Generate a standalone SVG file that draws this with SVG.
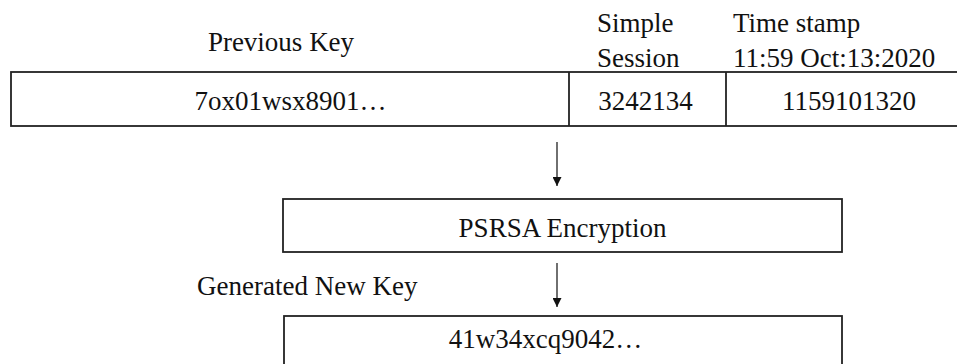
<svg xmlns="http://www.w3.org/2000/svg" width="957" height="364" viewBox="0 0 957 364">
<style>
text{font-family:"Liberation Serif","Times New Roman",serif;font-size:27px;fill:#111}
.box{fill:#fff;stroke:#222;stroke-width:1.8}
.ln{stroke:#222;stroke-width:1.3;fill:none}
</style>
<defs>
<marker id="ah" viewBox="0 0 10 10" refX="10" refY="5" markerWidth="9" markerHeight="9" markerUnits="userSpaceOnUse" orient="auto">
<path d="M0,0 L10,5 L0,10 z" fill="#111"/>
</marker>
</defs>
<g id="labels">
<text x="281" y="51" text-anchor="middle">Previous Key</text>
<text x="597" y="32">Simple</text>
<text x="597" y="67">Session</text>
<text x="733" y="32">Time stamp</text>
<text x="733" y="67">11:59 Oct:13:2020</text>
<text x="197" y="295">Generated New Key</text>
</g>
<g id="input-row">
<rect class="box" x="11" y="72" width="962" height="54"/>
<line class="ln" x1="569" y1="72" x2="569" y2="126" style="stroke-width:1.8"/>
<line class="ln" x1="726" y1="72" x2="726" y2="126" style="stroke-width:1.8"/>
<text x="290.5" y="110" text-anchor="middle">7ox01wsx8901…</text>
<text x="645.5" y="110" text-anchor="middle">3242134</text>
<text x="849" y="110" text-anchor="middle">1159101320</text>
</g>
<g id="encryption">
<rect class="box" x="283" y="199" width="559" height="53"/>
<text x="562.5" y="237" text-anchor="middle">PSRSA Encryption</text>
</g>
<g id="new-key">
<rect class="box" x="284" y="316" width="558" height="60"/>
<text x="545.5" y="348" text-anchor="middle">41w34xcq9042…</text>
</g>
<g id="connectors">
<line class="ln" x1="557" y1="142" x2="557" y2="186" marker-end="url(#ah)"/>
<line class="ln" x1="557" y1="263" x2="557" y2="307" marker-end="url(#ah)"/>
</g>
</svg>
